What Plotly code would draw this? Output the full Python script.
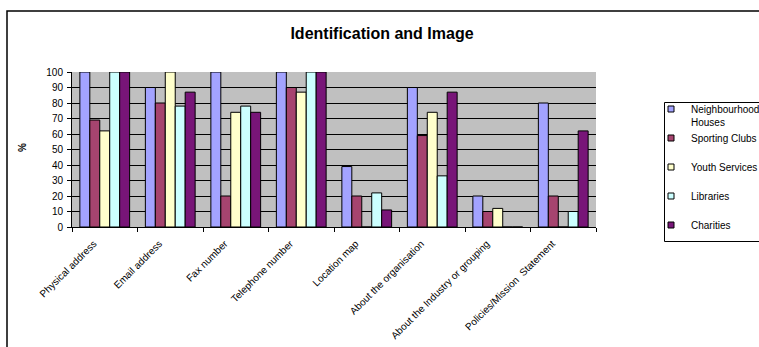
import plotly.graph_objects as go

# Survey: share of organisations whose website shows each item (%)
categories = [
    "Physical address", "Email address", "Fax number", "Telephone number",
    "Location map", "About the organisation",
    "About the Industry or grouping", "Policies/Mission  Statement",
]
series_names = ["Neighbourhood Houses", "Sporting Clubs", "Youth Services",
                "Libraries", "Charities"]
legend_labels = ["Neighbourhood<br>Houses", "Sporting Clubs<br> ",
                 "Youth Services<br> ", "Libraries<br> ", "Charities<br> "]
neighbourhood_houses = [100, 90, 100, 100, 39, 90, 20, 80]
sporting_clubs = [69, 80, 20, 90, 20, 59, 10, 20]
youth_services = [62, 100, 74, 87, 0, 74, 12, 0]
libraries = [100, 78, 78, 100, 22, 33, 0, 10]
charities = [100, 87, 74, 100, 11, 87, 0, 62]
y_ticks = list(range(0, 101, 10))

values = [neighbourhood_houses, sporting_clubs, youth_services, libraries, charities]
colors = ["#A3A3FF", "#A6446F", "#FFFFCC", "#CCFFFF", "#781578"]

FONT = "Liberation Sans, Arial, sans-serif"
W, H = 759, 347
L, R, T, B = 72, 163, 72, 120  # plot area: x 72..596, y 72..227

fig = go.Figure()
for name, vals, col in zip(series_names, values, colors):
    fig.add_trace(go.Bar(
        x=categories, y=vals, name=name, showlegend=False,
        marker=dict(color=col, line=dict(color="black", width=1)),
    ))
# small square legend keys
for label, col in zip(legend_labels, colors):
    fig.add_trace(go.Scatter(
        x=[None], y=[None], mode="markers", name=label,
        marker=dict(symbol="square", size=6, color=col,
                    line=dict(color="black", width=1)),
    ))

pw, ph = W - L - R, H - T - B
def px_x(p):
    return (p - L) / pw
def px_y(p):
    return (H - B - p) / ph

shapes = [
    # chart frame
    dict(type="rect", xref="paper", yref="paper",
         x0=px_x(7), x1=px_x(800), y0=px_y(400), y1=px_y(11),
         line=dict(color="black", width=1.5), fillcolor="rgba(0,0,0,0)",
         layer="below"),
    # legend frame
    dict(type="rect", xref="paper", yref="paper",
         x0=px_x(664.5), x1=px_x(780), y0=px_y(241.5), y1=px_y(102.5),
         line=dict(color="black", width=1), fillcolor="white", layer="below"),
]

fig.update_layout(
    width=W, height=H,
    margin=dict(l=L, r=R, t=T, b=B, pad=0, autoexpand=False),
    paper_bgcolor="white",
    plot_bgcolor="#C0C0C0",
    font=dict(family=FONT, size=10, color="black"),
    title=dict(text="<b>Identification and Image</b>",
               font=dict(family=FONT, size=16, color="black"),
               xref="container", yref="container",
               x=382 / W, y=1 - 33 / H, xanchor="center", yanchor="middle"),
    barmode="group", bargap=0.24, bargroupgap=0,
    xaxis=dict(
        tickangle=-45, tickson="boundaries", ticks="outside", ticklen=4,
        tickcolor="black", showline=True, linecolor="black", linewidth=1,
        showgrid=False, tickfont=dict(size=10), automargin=False,
        ticklabelshift=-11, ticklabelstandoff=6,
    ),
    yaxis=dict(
        range=[0, 100], tickvals=y_ticks, ticks="outside", ticklen=4,
        tickcolor="black", showline=True, linecolor="black", linewidth=1,
        showgrid=True, gridcolor="black", gridwidth=1, zeroline=False,
        tickfont=dict(size=10), ticklabelstandoff=2, automargin=False,
    ),
    legend=dict(
        xref="container", yref="container",
        x=651 / W, y=1 - 96 / H, xanchor="left", yanchor="top",
        bgcolor="rgba(0,0,0,0)", borderwidth=0, valign="top",
        font=dict(family=FONT, size=10, color="black"),
    ),
    annotations=[dict(
        text="<b>%</b>", xref="paper", yref="paper",
        x=px_x(22), y=px_y(148), showarrow=False, textangle=-90,
        font=dict(family=FONT, size=10, color="black"),
        xanchor="center", yanchor="middle",
    )],
    shapes=shapes,
)

fig.write_html("out.html")
